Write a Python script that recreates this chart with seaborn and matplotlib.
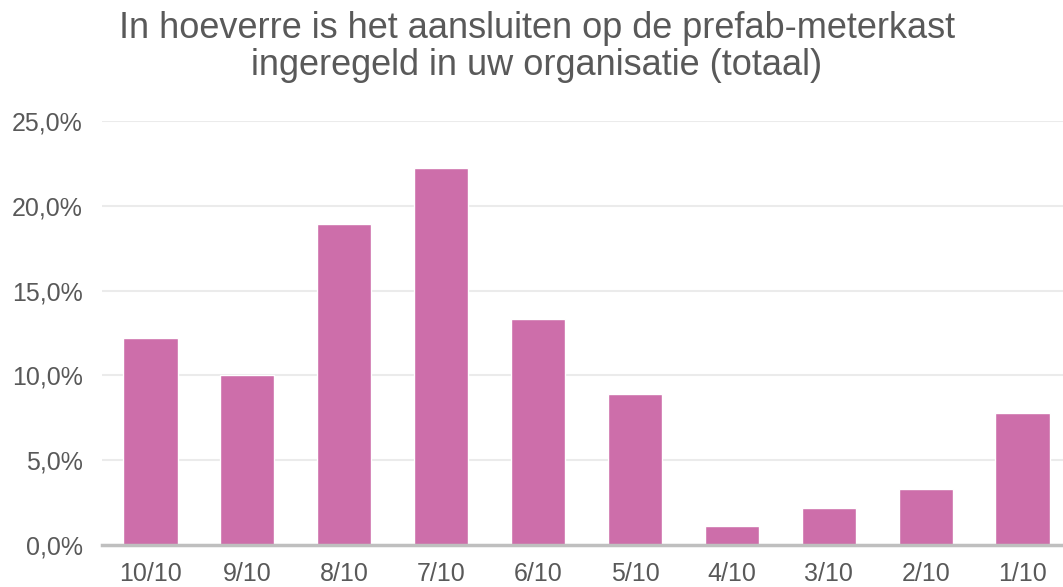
import matplotlib
matplotlib.use("Agg")
import matplotlib.pyplot as plt
import matplotlib.ticker as mticker
import seaborn as sns
import pandas as pd

categories = ["10/10", "9/10", "8/10", "7/10", "6/10", "5/10", "4/10", "3/10", "2/10", "1/10"]
values = [12.2, 10.0, 18.9, 22.2, 13.3, 8.9, 1.1, 2.2, 3.3, 7.8]
yticks = [0, 5, 10, 15, 20, 25]
title = "In hoeverre is het aansluiten op de prefab-meterkast\ningeregeld in uw organisatie (totaal)"

sns.set_theme(style="white")
plt.rcParams["font.family"] = ["Liberation Sans", "DejaVu Sans"]

df = pd.DataFrame({"cat": categories, "val": values})

fig = plt.figure(figsize=(10.63, 5.87), dpi=100)
ax = fig.add_axes([102 / 1063, 42 / 587, 969 / 1063, 424 / 587])

sns.barplot(data=df, x="cat", y="val", order=categories, color="#CD6EAA",
            saturation=1, width=0.56, ax=ax)

ax.set_ylim(0, 25)
ax.set_xlim(-0.5, len(categories) - 0.5)
ax.set_yticks(yticks)
ax.yaxis.set_major_formatter(mticker.FuncFormatter(lambda v, p: f"{v:.1f}%".replace(".", ",")))
ax.grid(axis="y", color="#EBEBEB", linewidth=1.5)
ax.set_axisbelow(True)
for s in ["top", "right", "left"]:
    ax.spines[s].set_visible(False)
ax.spines["bottom"].set_color("#BFBFBF")
ax.spines["bottom"].set_linewidth(2.5)
ax.set_xlabel("")
ax.set_ylabel("")
ax.tick_params(axis="both", length=0, labelsize=18, colors="#595959")
ax.tick_params(axis="y", pad=14)
ax.tick_params(axis="x", pad=12)

fig.text(0.505, 0.982, title, ha="center", va="top", fontsize=26,
         color="#595959", linespacing=1.1)

fig.savefig("out.png", dpi=100)
